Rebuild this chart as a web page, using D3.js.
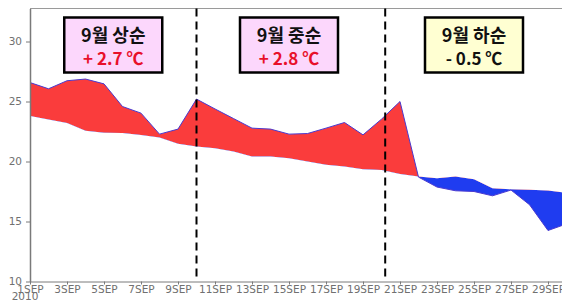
<!DOCTYPE html>
<html>
<head>
  <meta charset="utf-8">
  <title>9월 기온 편차</title>
  <script src="https://d3js.org/d3.v7.min.js"></script>
  <style type="text/css">
    body { margin: 0; background: #fff; }
    .axis text { font: 10.5px "DejaVu Sans", sans-serif; fill: #707070; }
    .axis path, .axis line { stroke: #7a7a7a; }
    .box-title { font: bold 18px "Noto Sans CJK KR", sans-serif; text-anchor: middle; }
    .box-value { font: bold 17px "Noto Sans CJK KR", sans-serif; text-anchor: middle; }
  </style>
</head>
<body>
  <svg id="chart"></svg>
  <script>
    // daily values, September 2010
    var days = [1, 2, 3, 4, 5, 6, 7, 8, 9, 10, 11, 12, 13, 14, 15,
      16, 17, 18, 19, 20, 21, 22, 23, 24, 25, 26, 27, 28, 29, 30];
    var obsTemp = [26.58, 26.06, 26.73, 26.87, 26.47, 24.58, 24.03, 22.28, 22.7, 25.2,
      24.38, 23.58, 22.78, 22.7, 22.28, 22.33, 22.78, 23.25, 22.22, 23.53,
      25.0, 18.7, 17.87, 17.56, 17.5, 17.14, 17.62, 16.4, 14.25, 14.8];
    var normalTemp = [23.8, 23.5, 23.2, 22.56, 22.4, 22.37, 22.2, 22.0, 21.48, 21.25,
      21.1, 20.83, 20.42, 20.42, 20.28, 20.0, 19.72, 19.58, 19.36, 19.3,
      18.95, 18.75, 18.6, 18.75, 18.53, 17.78, 17.68, 17.64, 17.58, 17.4];

    var yTicks = [10, 15, 20, 25, 30];
    var xTicks = [1, 3, 5, 7, 9, 11, 13, 15, 17, 19, 21, 23, 25, 27, 29];
    var yearLabel = "2010";

    // dekad boundaries and the three boxes
    var dividers = [10, 20.2];
    var boxCenters = [5.5, 15, 25];
    var boxTitles = ["9월 상순", "9월 중순", "9월 하순"];
    var boxValues = ["+ 2.7 ℃", "+ 2.8 ℃", "- 0.5 ℃"];

    var W = 562, H = 302;
    var svg = d3.select("#chart").attr("width", W).attr("height", H);

    var x = d3.scaleLinear().domain([1, 30]).range([30, 566.5]);
    var y = d3.scaleLinear().domain([10, 32.75]).range([281.5, 8.5]);

    // frame top line
    svg.append("line")
      .attr("x1", x(1)).attr("x2", W + 10)
      .attr("y1", y(32.75)).attr("y2", y(32.75))
      .attr("stroke", "#9a9a9a").attr("stroke-width", 1);

    // difference chart: area between obs and normal, clipped above/below normal
    var above = d3.area()
      .x(function (d, i) { return x(days[i]); })
      .y0(0)
      .y1(function (d, i) { return y(normalTemp[i]); });
    var below = d3.area()
      .x(function (d, i) { return x(days[i]); })
      .y0(function (d, i) { return y(normalTemp[i]); })
      .y1(H);
    var between = d3.area()
      .x(function (d, i) { return x(days[i]); })
      .y0(function (d, i) { return y(normalTemp[i]); })
      .y1(function (d, i) { return y(obsTemp[i]); });

    var defs = svg.append("defs");
    defs.append("clipPath").attr("id", "clip-above")
      .append("path").attr("d", above(days));
    defs.append("clipPath").attr("id", "clip-below")
      .append("path").attr("d", below(days));

    svg.append("path")
      .attr("d", between(days))
      .attr("clip-path", "url(#clip-above)")
      .attr("fill", "#fa3c3c");
    svg.append("path")
      .attr("d", between(days))
      .attr("clip-path", "url(#clip-below)")
      .attr("fill", "#1f3cf0");

    // observed line
    var line = d3.line()
      .x(function (d, i) { return x(days[i]); })
      .y(function (d) { return y(d); });
    svg.append("path")
      .attr("d", line(obsTemp))
      .attr("fill", "none")
      .attr("stroke", "#4a3ad0")
      .attr("stroke-width", 1);

    // axes
    svg.append("g")
      .attr("class", "axis")
      .attr("transform", "translate(0," + y(10) + ")")
      .call(d3.axisBottom(x)
        .tickValues(xTicks)
        .tickFormat(function (d) { return d + "SEP"; })
        .tickSize(3)
        .tickSizeOuter(0)
        .tickPadding(1));

    svg.append("g")
      .attr("class", "axis")
      .attr("transform", "translate(" + x(1) + ",0)")
      .call(d3.axisLeft(y)
        .tickValues(yTicks)
        .tickSize(4)
        .tickSizeOuter(0)
        .tickPadding(4))
      .select(".domain").attr("stroke-width", 1.5);

    svg.append("text")
      .attr("x", x(1) - 5).attr("y", 300)
      .attr("text-anchor", "middle")
      .style("font", "10.5px 'DejaVu Sans', sans-serif")
      .style("fill", "#707070")
      .text(yearLabel);

    // dashed dividers
    svg.selectAll(".divider")
      .data(dividers)
      .enter().append("line")
      .attr("class", "divider")
      .attr("x1", function (d) { return x(d); })
      .attr("x2", function (d) { return x(d); })
      .attr("y1", y(32.75)).attr("y2", y(10))
      .attr("stroke", "#000")
      .attr("stroke-width", 2)
      .attr("stroke-dasharray", "8,5");

    // summary boxes
    var boxes = svg.selectAll(".box")
      .data(boxCenters)
      .enter().append("g")
      .attr("class", "box")
      .attr("transform", function (d) { return "translate(" + x(d) + ",0)"; });

    boxes.append("rect")
      .attr("x", -49).attr("y", 17.5)
      .attr("width", 98).attr("height", 55)
      .attr("fill", function (d, i) { return i < 2 ? "#fcd7fc" : "#ffffd2"; })
      .attr("stroke", "#000")
      .attr("stroke-width", 2.5);

    boxes.append("text")
      .attr("class", "box-title")
      .attr("y", 42)
      .attr("fill", "#111")
      .text(function (d, i) { return boxTitles[i]; });

    boxes.append("text")
      .attr("class", "box-value")
      .attr("y", 64.5)
      .attr("fill", function (d, i) { return i < 2 ? "#e8102a" : "#111"; })
      .text(function (d, i) { return boxValues[i]; });
  </script>
</body>
</html>
